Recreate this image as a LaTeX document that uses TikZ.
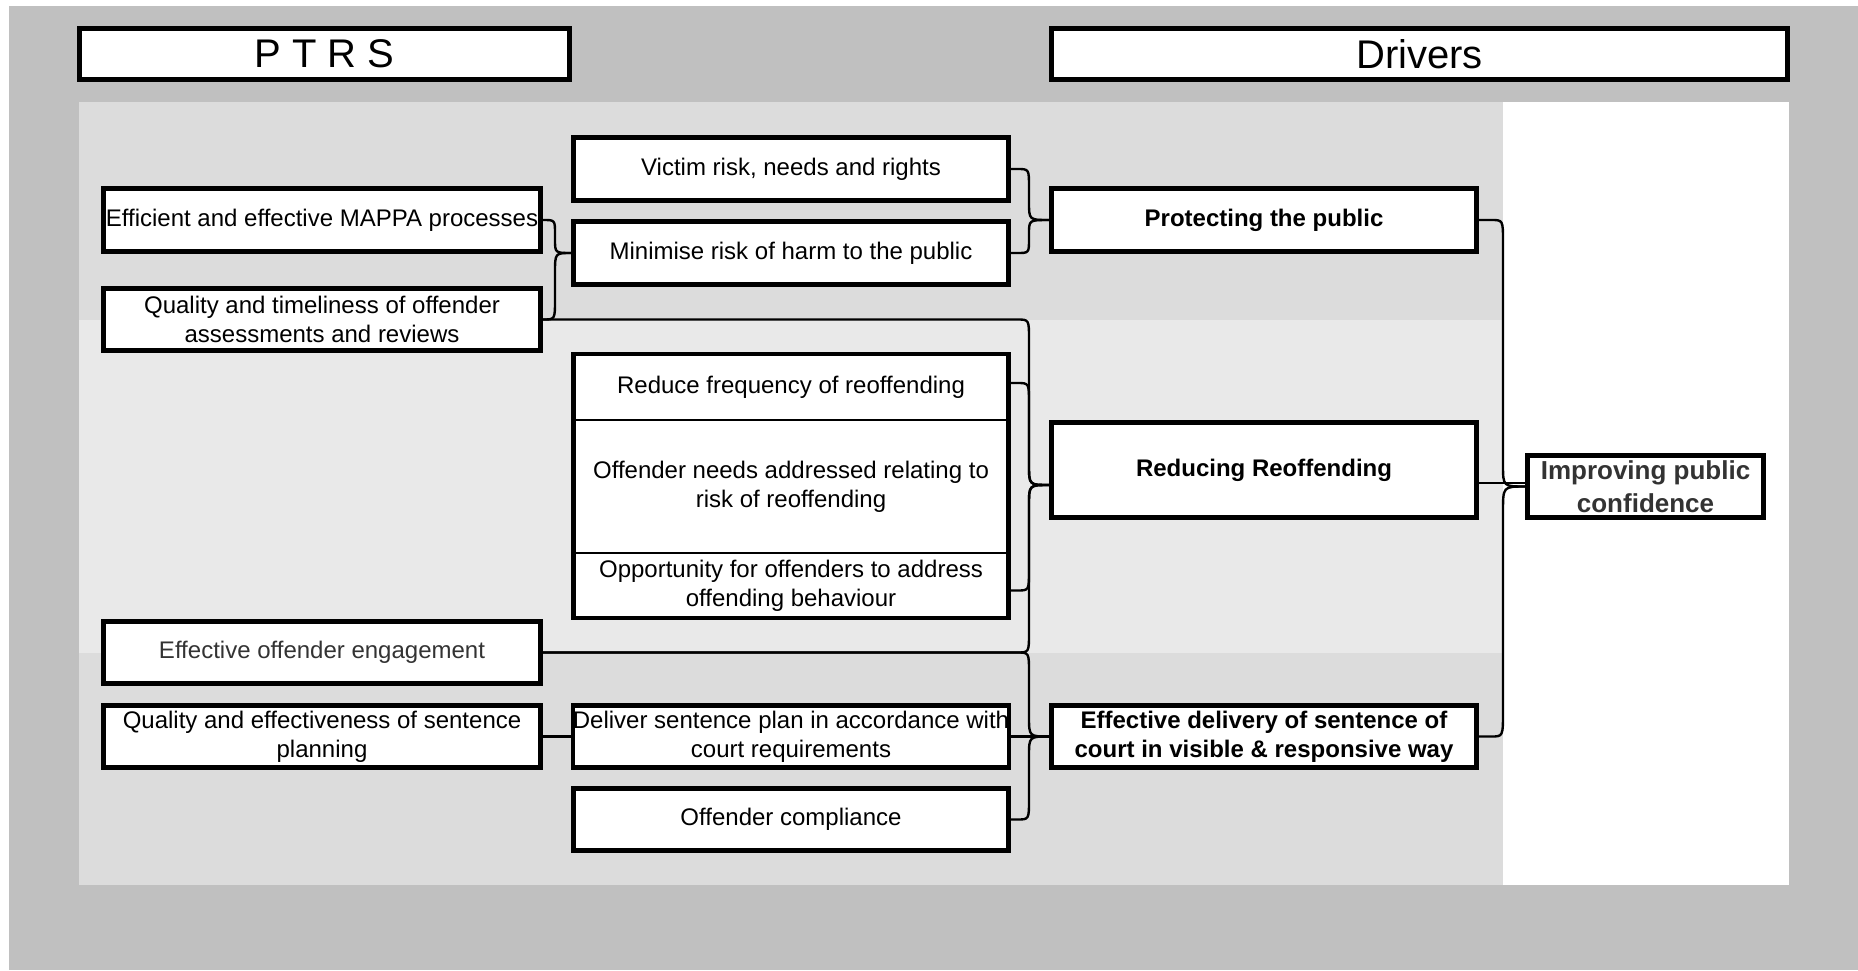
\documentclass[tikz,border=0pt]{standalone}
\usepackage{fontspec}
\setmainfont{Liberation Sans}
\usetikzlibrary{calc}
\definecolor{outergray}{HTML}{C0C0C0}
\definecolor{bandA}{HTML}{DCDCDC}
\definecolor{bandB}{HTML}{E9E9E9}
\definecolor{txtgray}{HTML}{333333}
\tikzset{
  box/.style={draw=black, line width=2.3pt, fill=white, align=center, inner xsep=0pt, inner ysep=1pt,
    font=\fontsize{12}{14.5}\selectfont},
  boldbox/.style={box, font=\fontsize{12}{14.5}\selectfont\bfseries},
  stackbox/.style={box, line width=1pt, outer sep=0pt},
  hdr/.style={draw=black, line width=2.3pt, fill=white, align=center, inner sep=0pt,
    font=\fontsize{20}{24}\selectfont},
  frame/.style={draw=black, line width=2.3pt},
  conn/.style={draw=black, line width=1.2pt},
}
\newcommand\bcon[4]{\draw[conn] (#1) -- ($(#1 -| #2)+(-12,0)$) .. controls (#1 -| #2) .. ($(#1 -| #2)+(0,#4)$) -- ($(#3 -| #2)-(0,#4)$) .. controls (#3 -| #2) .. (#3);}
\begin{document}
\begin{tikzpicture}[x=0.5pt, y=-0.5pt]
\useasboundingbox (0,0) rectangle (1858,970);
% backgrounds
\fill[white] (0,0) rectangle (1858,970);
\fill[outergray] (9,6) rectangle (1858,970);
\fill[white] (1503,102) rectangle (1789,885);
\fill[bandA] (79,102) rectangle (1503,320);
\fill[bandB] (79,320) rectangle (1503,653);
\fill[bandA] (79,653) rectangle (1503,885);
% headers
\node[hdr, minimum width=245.2pt, minimum height=25.7pt] (ptrs) at (324.5,54) {P T R S};
\node[hdr, minimum width=368.2pt, minimum height=25.7pt] (drv) at (1419.5,54) {Drivers};
% left column
\node[box, minimum width=218.7pt, minimum height=31.7pt] (mappa) at (322,220) {Efficient and effective MAPPA processes};
\node[box, minimum width=218.7pt, minimum height=31.2pt] (qt) at (322,319.5) {Quality and timeliness of offender\\assessments and reviews};
\node[box, minimum width=218.7pt, minimum height=31.2pt, text=txtgray] (eng) at (322,652.5) {Effective offender engagement};
\node[box, minimum width=218.7pt, minimum height=31.2pt] (qe) at (322,736.5) {Quality and effectiveness of sentence\\planning};
% middle column
\node[box, minimum width=217.7pt, minimum height=31.7pt] (vic) at (791,169) {Victim risk, needs and rights};
\node[box, minimum width=217.7pt, minimum height=31.7pt] (min) at (791,253) {Minimise risk of harm to the public};
\node[stackbox, minimum width=217.7pt, minimum height=33pt] (rf) at (791,387) {Reduce frequency of reoffending};
\node[stackbox, minimum width=217.7pt, minimum height=66.5pt] (on) at (791,486.5) {Offender needs addressed relating to\\risk of reoffending};
\node[stackbox, minimum width=217.7pt, minimum height=32.5pt] (opp) at (791,585.5) {Opportunity for offenders to address\\offending behaviour};
\draw[frame] (rf.north west) rectangle (opp.south east);
\node[box, minimum width=217.7pt, minimum height=31.2pt] (del) at (791,736.5) {Deliver sentence plan in accordance with\\court requirements};
\node[box, minimum width=217.7pt, minimum height=31.2pt] (comp) at (791,819.5) {Offender compliance};
% drivers column
\node[boldbox, minimum width=212.7pt, minimum height=31.7pt] (prot) at (1264,220) {Protecting the public};
\node[boldbox, minimum width=212.7pt, minimum height=47.7pt] (rr) at (1264,470) {Reducing Reoffending};
\node[boldbox, minimum width=212.7pt, minimum height=31.2pt] (ed) at (1264,736.5) {Effective delivery of sentence of\\court in visible \& responsive way};
% outcome
\node[box, minimum width=118.2pt, minimum height=31.2pt, text=txtgray,
  font=\fontsize{13}{16.5}\selectfont\bfseries] (imp) at (1645.5,486.5) {Improving public\\confidence};
% helper coordinates
\coordinate (va) at (555,0);
\coordinate (vb) at (1029,0);
\coordinate (vc) at (1503,0);
\coordinate (rrin) at ($(rr.west)+(0,15)$);
\coordinate (rrout) at ($(rr.east)+(0,13)$);
\coordinate (rfout) at ($(rf.east)+(2.3,-4)$);
\coordinate (oppout) at ($(opp.east)+(2.3,5)$);
% connectors
\bcon{vic.east}{vb}{prot.west}{18}
\bcon{min.east}{vb}{prot.west}{-14}
\bcon{mappa.east}{va}{min.west}{14}
\bcon{qt.east}{va}{min.west}{-20}
\bcon{qt.east}{vb}{rrin}{20}
\bcon{rfout}{vb}{rrin}{20}
\bcon{oppout}{vb}{rrin}{-20}
\bcon{eng.east}{vb}{rrin}{-20}
\bcon{eng.east}{vb}{ed.west}{20}
\draw[conn] (del.east) -- (ed.west);
\bcon{comp.east}{vb}{ed.west}{-20}
\draw[conn] (qe.east) -- (del.west);
\bcon{prot.east}{vc}{imp.west}{22}
\draw[conn] (rrout) -- (rrout -| imp.west);
\bcon{ed.east}{vc}{imp.west}{-25}
\end{tikzpicture}
\end{document}
